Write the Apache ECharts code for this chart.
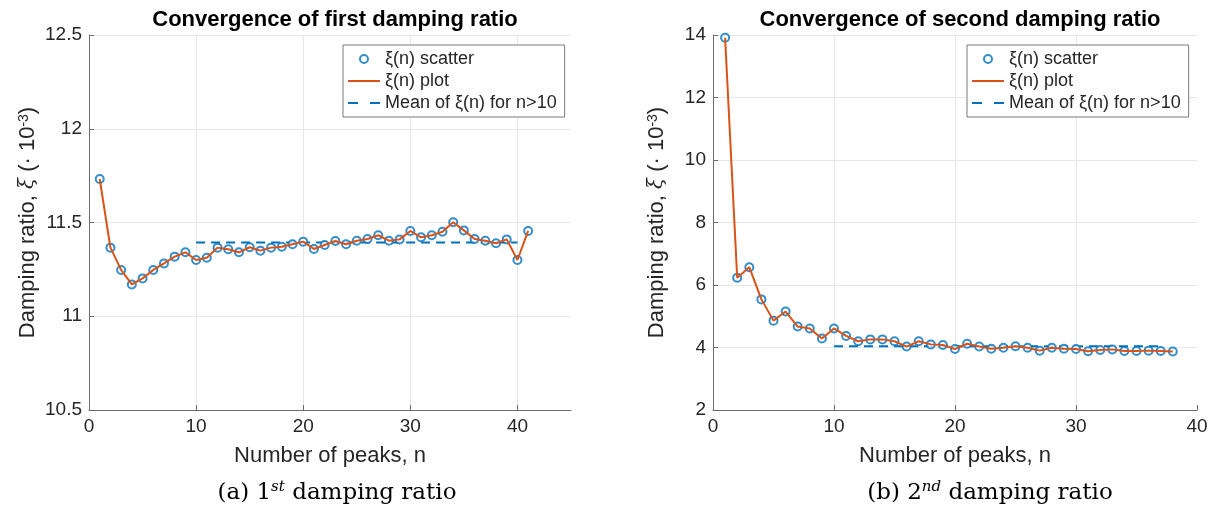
<!DOCTYPE html>
<html>
<head>
<meta charset="utf-8">
<script src="https://cdn.jsdelivr.net/npm/echarts@6/dist/echarts.min.js"></script>
<style>
html,body{margin:0;padding:0;background:#fff;}
#chart{width:1212px;height:507px;}
</style>
</head>
<body>
<div id="chart"></div>
<script>
// ---------- data ----------
const peaks1 = [1,2,3,4,5,6,7,8,9,10,11,12,13,14,15,16,17,18,19,20,21,22,23,24,25,26,27,28,29,30,31,32,33,34,35,36,37,38,39,40,41];
const xi1 = [11.732,11.366,11.247,11.170,11.202,11.247,11.282,11.318,11.341,11.300,
             11.312,11.366,11.357,11.341,11.368,11.350,11.366,11.371,11.384,11.398,
             11.359,11.380,11.401,11.384,11.403,11.412,11.432,11.403,11.410,11.455,
             11.421,11.432,11.451,11.501,11.458,11.412,11.403,11.389,11.410,11.300,11.455];
const mean1 = 11.394;
const meanRange1 = [10, 40];

const peaks2 = [1,2,3,4,5,6,7,8,9,10,11,12,13,14,15,16,17,18,19,20,21,22,23,24,25,26,27,28,29,30,31,32,33,34,35,36,37,38];
const xi2 = [13.91,6.23,6.57,5.54,4.86,5.15,4.67,4.61,4.29,4.61,
             4.37,4.20,4.26,4.26,4.20,4.03,4.20,4.10,4.08,3.95,
             4.12,4.03,3.96,3.99,4.04,3.99,3.90,3.99,3.96,3.95,
             3.88,3.92,3.94,3.89,3.89,3.90,3.89,3.87];
const mean2 = 4.04;
const meanRange2 = [10, 37];

const xTicks1 = [0, 10, 20, 30, 40];
const xTicks2 = [0, 10, 20, 30, 40];
const yTicks1 = [10.5, 11, 11.5, 12, 12.5];
const yTicks2 = [2, 4, 6, 8, 10, 12, 14];

const titles = ['Convergence of first damping ratio', 'Convergence of second damping ratio'];
const captions = ['(a) 1{sup|st} damping ratio', '(b) 2{sup|nd} damping ratio'];
const xName = 'Number of peaks, n';
const yName = 'Damping ratio, {i|ξ} (· 10{sup|-3})';
const legendNames = ['ξ(n) scatter', 'ξ(n) plot', 'Mean of ξ(n) for n>10'];

// ---------- styling ----------
const BLUE = '#0072BD', ORANGE = '#D95319';
const GRID_C = '#e6e6e6', AXIS_C = '#6b6b6b', TXT = '#262626';
const SANS = '"Liberation Sans", Arial, Helvetica, sans-serif';
const SERIF = '"DejaVu Serif", serif';

function zip(xs, ys){ return xs.map((x,i)=>[x, ys[i]]); }

function xAxisCfg(gi, max, ticks){
  const cols = ticks.map(()=>GRID_C);
  if (max > ticks[ticks.length-1]) cols.push('rgba(0,0,0,0)');
  else cols[cols.length-1] = 'rgba(0,0,0,0)';
  return {
    type:'value', gridIndex:gi, min:0, max:max, interval:10,
    name:xName, nameLocation:'middle', nameGap:35,
    nameTextStyle:{fontFamily:SANS, fontSize:22, color:TXT},
    axisLine:{show:true, onZero:false, lineStyle:{color:AXIS_C, width:1}},
    axisTick:{show:true, inside:true, length:5, lineStyle:{color:AXIS_C}, customValues:ticks},
    axisLabel:{fontFamily:SANS, fontSize:19, color:TXT, margin:7, customValues:ticks,
               formatter:v=> ticks.indexOf(v) >= 0 ? String(v) : ''},
    splitLine:{show:true, lineStyle:{color:cols, width:1}}
  };
}
function yAxisCfg(gi, min, max, interval, ticks){
  const cols = ticks.map(()=>GRID_C);
  cols[0] = 'rgba(0,0,0,0)';
  return {
    type:'value', gridIndex:gi, min:min, max:max, interval:interval,
    name:yName, nameLocation:'middle', nameGap:45,
    nameTextStyle:{fontFamily:SANS, fontSize:22, color:TXT,
      rich:{ i:{fontFamily:SERIF, fontStyle:'italic', fontSize:20, color:TXT},
             sup:{fontFamily:SANS, fontSize:14, color:TXT, verticalAlign:'top', lineHeight:14, padding:[0,0,10,0]} }},
    axisLine:{show:true, onZero:false, lineStyle:{color:AXIS_C, width:1}},
    axisTick:{show:true, inside:true, length:5, lineStyle:{color:AXIS_C}},
    axisLabel:{fontFamily:SANS, fontSize:19, color:TXT, margin:7},
    splitLine:{show:true, lineStyle:{color:cols, width:1}}
  };
}
function seriesFor(gi, xs, ys, mean, range){
  return [
    { name:legendNames[0], type:'scatter', xAxisIndex:gi, yAxisIndex:gi,
      data:zip(xs, ys), symbol:'emptyCircle', symbolSize:8,
      itemStyle:{color:BLUE, borderColor:BLUE, borderWidth:2}, z:2, silent:true },
    { name:legendNames[1], type:'line', xAxisIndex:gi, yAxisIndex:gi,
      data:zip(xs, ys), symbol:'none', lineStyle:{color:ORANGE, width:2},
      itemStyle:{color:ORANGE}, z:3, silent:true, animation:false },
    { name:legendNames[2], type:'line', xAxisIndex:gi, yAxisIndex:gi,
      data:[[range[0], mean],[range[1], mean]], symbol:'none',
      lineStyle:{color:BLUE, width:2, type:[9,6]}, itemStyle:{color:BLUE}, z:1, silent:true, animation:false }
  ];
}
function legendCfg(left, top){
  return {
    orient:'vertical', left:left, top:top, width:200,
    padding:[4,8,4,4], itemGap:2, itemWidth:32, itemHeight:8,
    borderColor:'#7a7a7a', borderWidth:1, backgroundColor:'#fff',
    selectedMode:false,
    textStyle:{fontFamily:SANS, fontSize:18, color:TXT, lineHeight:20},
    data:[
      {name:legendNames[0], icon:'circle', itemStyle:{color:'#fff', borderColor:BLUE, borderWidth:2}},
      {name:legendNames[1], itemStyle:{opacity:0}, lineStyle:{color:ORANGE, width:2, opacity:1}},
      {name:legendNames[2], itemStyle:{opacity:0}, lineStyle:{color:BLUE, width:2, type:[10,12], opacity:1}}
    ]
  };
}

const capRich = {sup:{fontFamily:SERIF, fontSize:15, fontStyle:'italic', verticalAlign:'top', padding:[0,0,12,0]}};

const option = {
  backgroundColor:'#fff',
  animation:false,
  title:[
    {text:titles[0], left:330, top:4, textAlign:'center',
     textStyle:{fontFamily:SANS, fontSize:22, fontWeight:'bold', color:'#000'}},
    {text:titles[1], left:955, top:4, textAlign:'center',
     textStyle:{fontFamily:SANS, fontSize:22, fontWeight:'bold', color:'#000'}}
  ],
  grid:[
    {left:89, top:35, width:482, height:375},
    {left:713, top:35, width:484, height:375}
  ],
  xAxis:[ xAxisCfg(0, 45, xTicks1), xAxisCfg(1, 40, xTicks2) ],
  yAxis:[ yAxisCfg(0, 10.5, 12.5, 0.5, yTicks1), yAxisCfg(1, 2, 14, 2, yTicks2) ],
  legend:[ legendCfg(343, 45), legendCfg(967, 45) ],
  series:[].concat(seriesFor(0, peaks1, xi1, mean1, meanRange1),
                   seriesFor(1, peaks2, xi2, mean2, meanRange2)),
  graphic:[
    {type:'text', x:337, y:493, style:{text:captions[0], align:'center', verticalAlign:'middle',
      font:'23px ' + SERIF, fill:'#000', rich:capRich}},
    {type:'text', x:990, y:493, style:{text:captions[1], align:'center', verticalAlign:'middle',
      font:'23px ' + SERIF, fill:'#000', rich:capRich}}
  ]
};

const chart = echarts.init(document.getElementById('chart'), null, {renderer:'canvas'});
chart.setOption(option);
</script>
</body>
</html>
